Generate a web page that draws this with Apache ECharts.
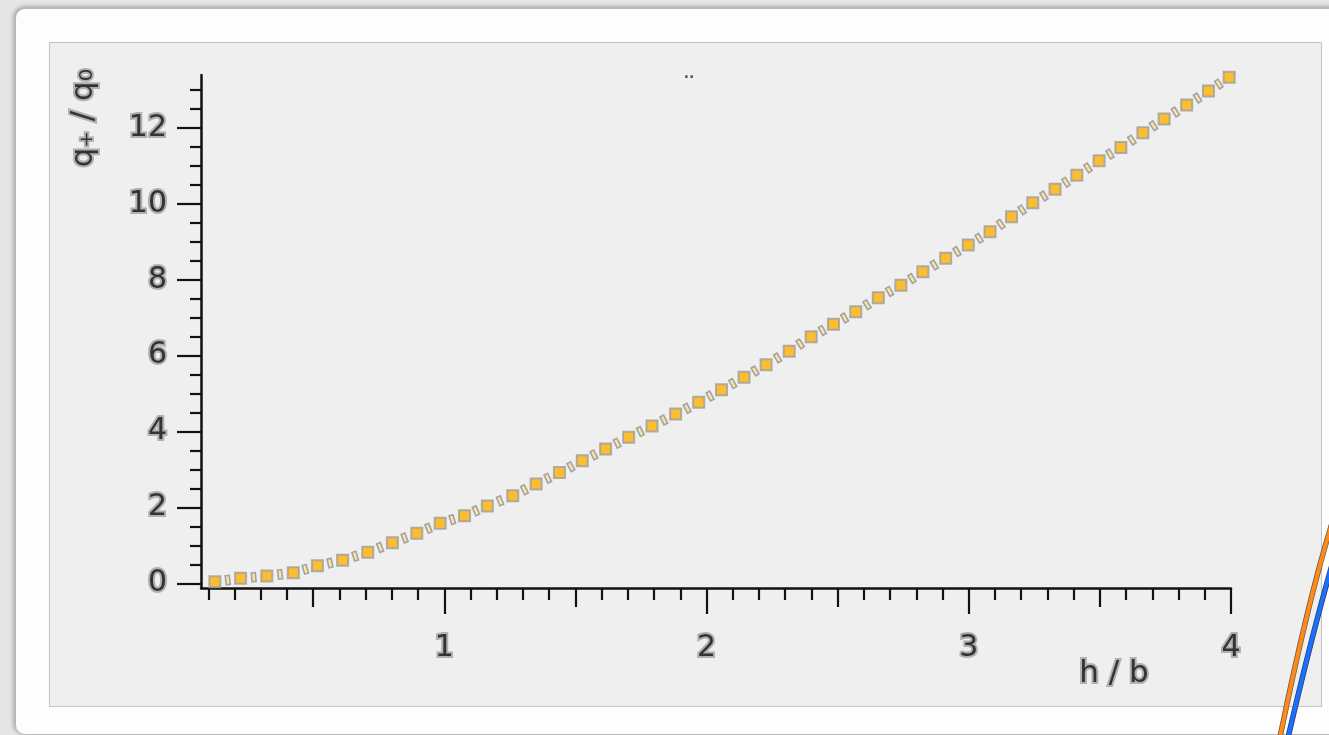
<!DOCTYPE html>
<html>
<head>
<meta charset="utf-8">
<script src="https://cdn.jsdelivr.net/npm/echarts@6/dist/echarts.min.js"></script>
<style>
html,body{margin:0;padding:0;width:1329px;height:735px;overflow:hidden;background:#e6e6e6;}
#card{position:absolute;left:15px;top:8px;width:1360px;height:725px;background:#fdfdfd;border-radius:10px;border:1px solid #b9b9b9;box-shadow:-1px -1px 5px rgba(0,0,0,0.35);}
#panel{position:absolute;left:49px;top:42px;width:1271px;height:663px;background:#efefef;border:1px solid #c4c4c4;}
#chart{position:absolute;left:0;top:0;width:1329px;height:735px;}
</style>
</head>
<body>
<div id="card"></div>
<div id="panel"></div>
<div id="chart"></div>
<script>
// h / b values of the plotted points
const xValues = [0.125,0.223,0.323,0.424,0.516,0.612,0.708,0.802,0.895,0.984,
  1.077,1.164,1.261,1.350,1.439,1.526,1.615,1.703,1.792,1.882,
  1.970,2.057,2.143,2.227,2.315,2.399,2.484,2.569,2.655,2.741,
  2.825,2.912,2.998,3.081,3.163,3.244,3.329,3.412,3.497,3.580,
  3.664,3.745,3.831,3.914,3.993];
// q+ / q0 values of the plotted points
const yValues = [0.04,0.13,0.19,0.28,0.46,0.61,0.82,1.07,1.32,1.58,
  1.78,2.04,2.31,2.62,2.92,3.23,3.54,3.85,4.15,4.46,
  4.77,5.10,5.43,5.76,6.12,6.50,6.83,7.16,7.53,7.86,
  8.21,8.57,8.92,9.27,9.66,10.03,10.39,10.76,11.14,11.49,
  11.88,12.24,12.61,12.98,13.34];

const xMajorTicks = [1,2,3,4];
const xMidTicks = [0.5,1.5,2.5,3.5];
const xMinorTicks = [0.1,0.2,0.3,0.4,0.6,0.7,0.8,0.9,1.1,1.2,1.3,1.4,1.6,1.7,1.8,1.9,
  2.1,2.2,2.3,2.4,2.6,2.7,2.8,2.9,3.1,3.2,3.3,3.4,3.6,3.7,3.8,3.9];
const yMajorTicks = [0,2,4,6,8,10,12];
const yMinorTicks = [0.5,1,1.5,2.5,3,3.5,4.5,5,5.5,6.5,7,7.5,8.5,9,9.5,10.5,11,11.5,12.5,13];

const xName = 'h / b';
const yName = 'q\u208A / q\u2080';
const titleText = '..';

const X_MIN = 0.072, X_MAX = 4;
const Y_MIN = -0.124, Y_MAX = 13.4;

const labelStyle = {
  fontFamily: 'DejaVu Sans',
  fontSize: 30,
  fontWeight: 'normal',
  color: '#333333',
  textBorderColor: 'rgba(165,165,165,0.85)',
  textBorderWidth: 4
};

function xAx(ticks, len, showLine, showLabel) {
  return {
    type: 'value', min: X_MIN, max: X_MAX, position: 'bottom', gridIndex: 0,
    axisLine: {show: showLine, onZero: false, lineStyle: {color: '#111', width: 2.5}},
    axisTick: {show: true, customValues: ticks, length: len, lineStyle: {color: '#111', width: 2.2}},
    axisLabel: Object.assign({show: showLabel, customValues: ticks, margin: 45}, labelStyle),
    splitLine: {show: false}
  };
}
function yAx(ticks, len, showLine, showLabel) {
  return {
    type: 'value', min: Y_MIN, max: Y_MAX, position: 'left', gridIndex: 0,
    axisLine: {show: showLine, onZero: false, lineStyle: {color: '#111', width: 2.5}},
    axisTick: {show: true, customValues: ticks, length: len, lineStyle: {color: '#111', width: 2.2}},
    axisLabel: Object.assign({show: showLabel, customValues: ticks, margin: 34}, labelStyle),
    splitLine: {show: false}
  };
}

const points = xValues.map((x, i) => [x, yValues[i]]);

const chart = echarts.init(document.getElementById('chart'), null, {renderer: 'canvas'});
chart.setOption({
  animation: false,
  backgroundColor: 'transparent',
  title: {
    text: titleText, left: 684, top: 62, textAlign: 'center',
    textStyle: {fontSize: 14, fontWeight: 'bold', color: '#555', fontFamily: 'DejaVu Sans'}
  },
  grid: {left: 201, right: 98, top: 75, bottom: 147, containLabel: false},
  xAxis: [xAx(xMajorTicks, 26, true, true), xAx(xMidTicks, 19, false, false), xAx(xMinorTicks, 12, false, false)],
  yAxis: [yAx(yMajorTicks, 24, true, true), yAx(yMinorTicks, 11, false, false)],
  graphic: [
    {type: 'text', x: 84, y: 118, rotation: Math.PI / 2, z: 10,
      style: {text: yName, fontFamily: 'DejaVu Sans', fontSize: 31, fontWeight: 'normal', fill: '#333333',
        stroke: 'rgba(165,165,165,0.85)', lineWidth: 4, align: 'center', verticalAlign: 'middle'}},
    {type: 'text', x: 1114, y: 674, z: 10,
      style: {text: xName, fontFamily: 'DejaVu Sans', fontSize: 31, fontWeight: 'normal', fill: '#333333',
        stroke: 'rgba(165,165,165,0.85)', lineWidth: 4, align: 'center', verticalAlign: 'middle'}},
    {type: 'bezierCurve', z: 10, shape: {x1: 1333, y1: 520, x2: 1279, y2: 742, cpx1: 1308, cpy1: 600},
      style: {stroke: '#6a5a4a', lineWidth: 5.5, fill: null}},
    {type: 'bezierCurve', z: 11, shape: {x1: 1333, y1: 520, x2: 1279, y2: 742, cpx1: 1308, cpy1: 600},
      style: {stroke: '#ff8a1a', lineWidth: 4, fill: null}},
    {type: 'bezierCurve', z: 10, shape: {x1: 1334, y1: 558, x2: 1287, y2: 742, cpx1: 1313, cpy1: 630},
      style: {stroke: '#2a3a5a', lineWidth: 5.5, fill: null}},
    {type: 'bezierCurve', z: 11, shape: {x1: 1334, y1: 558, x2: 1287, y2: 742, cpx1: 1313, cpy1: 630},
      style: {stroke: '#1a6fff', lineWidth: 4, fill: null}}
  ],
  series: [
    {
      type: 'custom', xAxisIndex: 0, yAxisIndex: 0, z: 3,
      data: points, encode: {x: 0, y: 1},
      renderItem: function (params, api) {
        const i = params.dataIndex;
        if (i >= xValues.length - 1) return null;
        const p0 = api.coord([xValues[i], yValues[i]]);
        const p1 = api.coord([xValues[i + 1], yValues[i + 1]]);
        const mx = (p0[0] + p1[0]) / 2, my = (p0[1] + p1[1]) / 2;
        const ang = Math.atan2(p1[1] - p0[1], p1[0] - p0[0]);
        return {
          type: 'rect', x: mx, y: my, rotation: -ang,
          shape: {x: -2, y: -4.5, width: 4, height: 9},
          style: {fill: '#fce3a4', stroke: '#a3a3a3', lineWidth: 1.6}
        };
      }
    },
    {
      type: 'scatter', xAxisIndex: 0, yAxisIndex: 0, z: 4,
      data: points, symbol: 'rect', symbolSize: 11,
      itemStyle: {color: '#ffb200', borderColor: '#9e9e9e', borderWidth: 2}
    }
  ]
});
</script>
</body>
</html>
